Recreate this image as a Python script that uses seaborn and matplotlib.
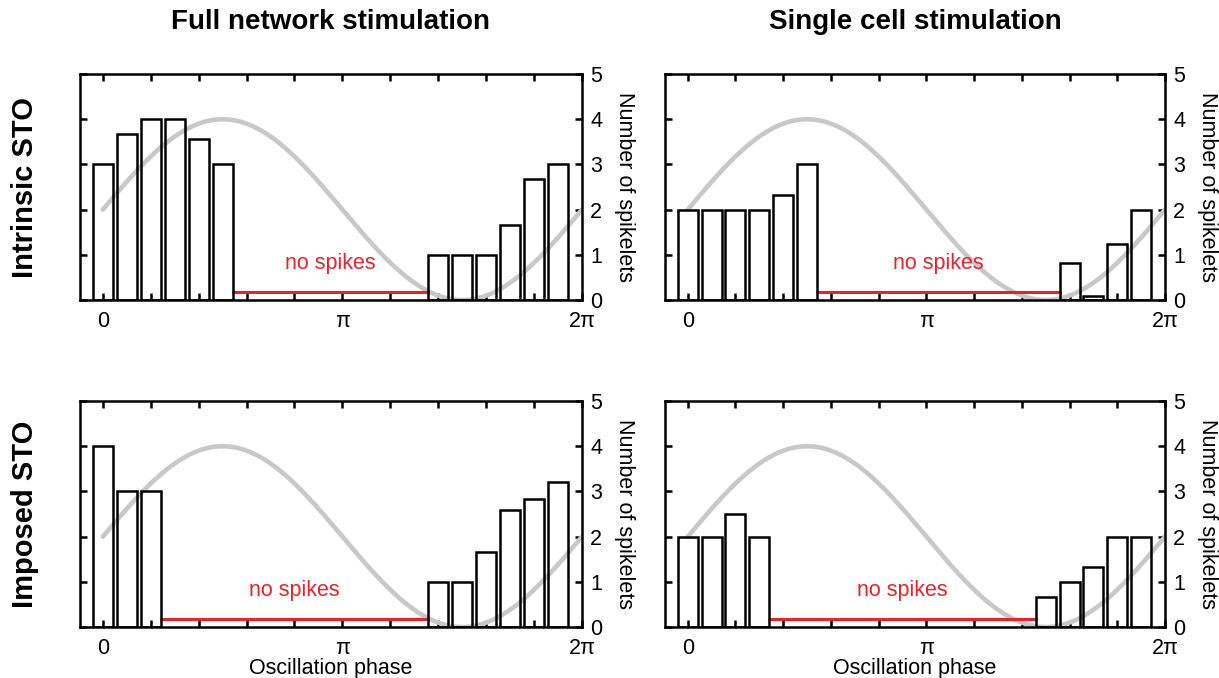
import numpy as np
import pandas as pd
import matplotlib
matplotlib.use('Agg')
import matplotlib.pyplot as plt
import seaborn as sns

#%% data: 20 phase bins of width pi/10, centred at 0, pi/10, ..., 19pi/10
n_bins = 20
bin_index = np.arange(n_bins)

# number of spikelets per phase bin (0 = no spikes)
intrinsic_full = [3, 3.67, 4, 4, 3.57, 3,
                  0, 0, 0, 0, 0, 0, 0, 0,
                  1, 1, 1, 1.67, 2.67, 3]
intrinsic_single = [2, 2, 2, 2, 2.33, 3,
                    0, 0, 0, 0, 0, 0, 0, 0, 0, 0,
                    0.83, 0.08, 1.25, 2]
imposed_full = [4, 3, 3,
                0, 0, 0, 0, 0, 0, 0, 0, 0, 0, 0,
                1, 1, 1.67, 2.6, 2.84, 3.2]
imposed_single = [2, 2, 2.5, 2,
                  0, 0, 0, 0, 0, 0, 0, 0, 0, 0, 0,
                  0.66, 1, 1.33, 2, 2]

col_titles = ['Full network stimulation', 'Single cell stimulation']
row_titles = ['Intrinsic STO', 'Imposed STO']
panel_counts = [[intrinsic_full, intrinsic_single],
                [imposed_full, imposed_single]]

# subthreshold oscillation drawn behind the histogram
sto_offset = 2.0
sto_amplitude = 2.0

BAR_WIDTH = 0.84
RED = '#e3242b'
GREY = '#c8c8c8'
FS = 15.5

#%% style
sns.set_style('ticks')
plt.rcParams['font.family'] = ['Liberation Sans', 'DejaVu Sans']
plt.rcParams['axes.linewidth'] = 1.8
for key in ['text.color', 'axes.labelcolor', 'xtick.color', 'ytick.color',
            'axes.edgecolor']:
    plt.rcParams[key] = 'black'


def draw_panel(ax, counts, show_xlabel):
    phase = bin_index * np.pi / 10
    df = pd.DataFrame({'phase': phase, 'count': counts})
    nonzero = df[df['count'] > 0]

    curve_x = np.linspace(0, 2 * np.pi, 400)
    sns.lineplot(x=curve_x, y=sto_offset + sto_amplitude * np.sin(curve_x),
                 color=GREY, linewidth=3.3, ax=ax, zorder=1)

    sns.barplot(data=nonzero, x='phase', y='count', native_scale=True,
                width=BAR_WIDTH, fill=False, color='black', linewidth=1.8,
                saturation=1, errorbar=None, ax=ax, zorder=3)

    # red bar marking the empty phase range
    empty = df.index[df['count'] == 0]
    start = (empty.min() - 1 + BAR_WIDTH / 2) * np.pi / 10
    end = (empty.max() + 1 - BAR_WIDTH / 2) * np.pi / 10
    ax.plot([start, end], [0.18, 0.18], color=RED, linewidth=2.2, zorder=2)
    ax.text((start + end) / 2, 0.8, 'no spikes', color=RED, fontsize=FS,
            ha='center', va='center')

    ax.set_xlim(-0.3, 2 * np.pi)
    ax.set_ylim(0, 5)
    xt = np.arange(11) * np.pi / 5
    ax.set_xticks(xt)
    ax.set_xticklabels(['0', '', '', '', '', 'π', '', '', '', '', '2π'])
    ax.set_yticks(range(6))
    ax.tick_params(axis='x', direction='in', top=True, bottom=True,
                   labeltop=False, length=5, width=1.8, labelsize=FS, pad=8)
    ax.tick_params(axis='y', direction='in', left=True, right=True,
                   labelleft=False, labelright=True, length=5, width=1.8,
                   labelsize=FS, pad=6)
    for s in ax.spines.values():
        s.set_visible(True)
        s.set_linewidth(1.8)
        s.set_color('black')

    ax.yaxis.set_label_position('right')
    ax.set_ylabel('Number of spikelets', fontsize=FS, rotation=270,
                  va='bottom', labelpad=8)
    if show_xlabel:
        ax.set_xlabel('Oscillation phase', fontsize=FS, labelpad=-1)
    else:
        ax.set_xlabel('')


#%% figure
fig = plt.figure(figsize=(12.19, 6.78), dpi=100)
lefts = [0.0656, 0.5455]
widths = [0.4118, 0.4102]
bottoms = [0.5575, 0.0752]
height = 0.3333

for r in range(2):
    for c in range(2):
        ax = fig.add_axes([lefts[c], bottoms[r], widths[c], height])
        draw_panel(ax, panel_counts[r][c], show_xlabel=(r == 1))
    fig.text(0.0205, bottoms[r] + height / 2, row_titles[r], rotation=90,
             fontsize=21, fontweight='bold', ha='center', va='center')

for c in range(2):
    fig.text(lefts[c] + widths[c] / 2, 0.967, col_titles[c], fontsize=20,
             fontweight='bold', ha='center', va='center')

fig.savefig('out.png', dpi=100)
